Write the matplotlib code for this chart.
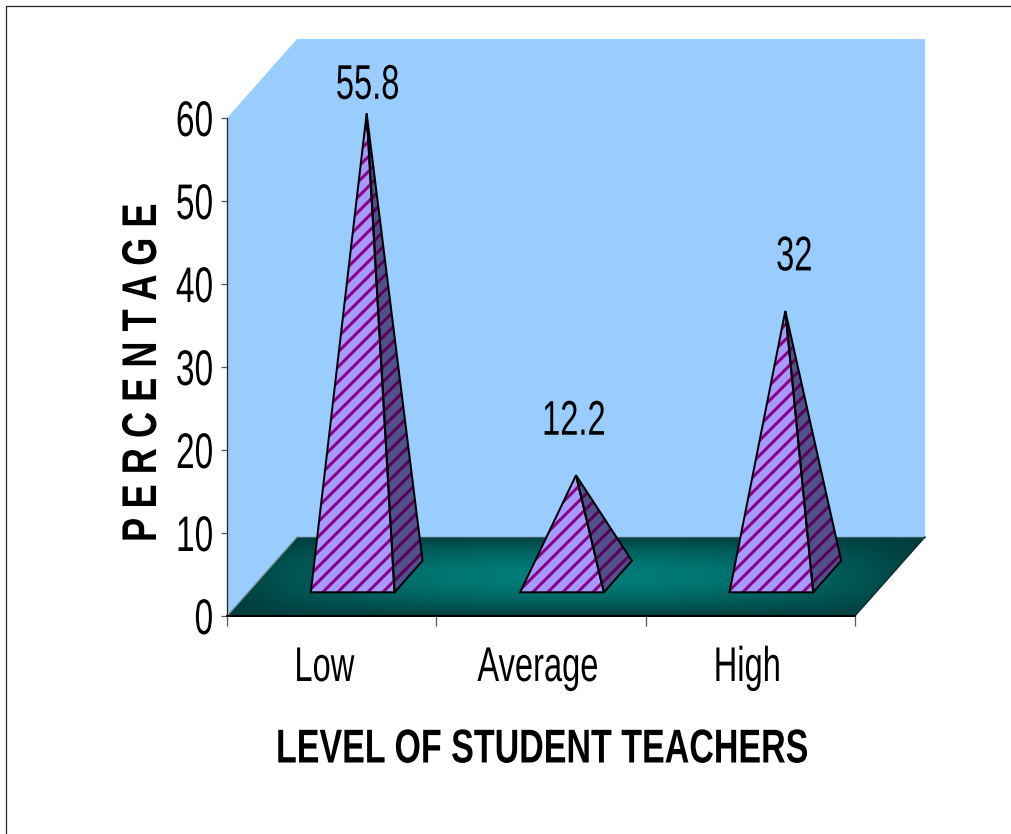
import numpy as np
import matplotlib
matplotlib.use("Agg")
import matplotlib.pyplot as plt
from matplotlib.lines import Line2D
from matplotlib.patches import Polygon
from matplotlib.patheffects import AbstractPathEffect
from matplotlib.transforms import Affine2D

categories = ["Low", "Average", "High"]
values = [55.8, 12.2, 32]
y_ticks = [0, 10, 20, 30, 40, 50, 60]
x_title = "LEVEL OF STUDENT TEACHERS"
y_title = "P E R C E N T A G E"

W, H, DPI = 1012, 834, 90
plt.rcParams["font.family"] = ["Liberation Sans", "DejaVu Sans"]
plt.rcParams["hatch.linewidth"] = 2.4

fig = plt.figure(figsize=(W / DPI, H / DPI), dpi=DPI, facecolor="white")
ax = fig.add_axes([227 / W, (H - 616) / H, 628 / W, 498 / H])
ax.set_xlim(0, 3)
ax.set_ylim(0, 60)
ax.patch.set_visible(False)

# Oblique projection: full depth moves a point right and up by these data amounts.
DX, DY = 70 / (628 / 3), 79 / (498 / 60)


def proj(x, y, d):
    return (x + d * DX, y + d * DY)


class Squeeze(AbstractPathEffect):
    """Draws text narrower along one display axis, about a fixed pivot."""

    def __init__(self, sx, sy, cx, cy):
        super().__init__()
        self.sx, self.sy, self.cx, self.cy = sx, sy, cx, cy

    def draw_path(self, renderer, gc, tpath, affine, rgbFace=None):
        squeeze = (Affine2D().translate(-self.cx, -self.cy)
                   .scale(self.sx, self.sy).translate(self.cx, self.cy))
        renderer.draw_path(gc, tpath, affine + squeeze, rgbFace)


def condense(text, renderer, factor=None, length=None, pivot="center"):
    """Narrow a text by a factor, or to a given length in pixels."""
    box = text.get_window_extent(renderer)
    vertical = text.get_rotation() == 90
    if length is not None:
        factor = length / (box.height if vertical else box.width)
    cx = box.x1 if pivot == "right" else (box.x0 + box.x1) / 2
    cy = (box.y0 + box.y1) / 2
    if vertical:
        text.set_path_effects([Squeeze(1, factor, cx, cy)])
    else:
        text.set_path_effects([Squeeze(factor, 1, cx, cy)])


# Side and back walls
wall = "#99CCFF"
ax.add_patch(Polygon([proj(0, 0, 0), proj(0, 60, 0), proj(0, 60, 1), proj(0, 0, 1)],
                     fc=wall, ec="none", clip_on=False, zorder=1))
ax.add_patch(Polygon([proj(0, 0, 1), proj(0, 60, 1), proj(3, 60, 1), proj(3, 0, 1)],
                     fc=wall, ec="none", clip_on=False, zorder=1))

# Floor with a teal glow fading to dark at its edges
u = np.linspace(-1, 1, 400)
v = np.linspace(-1, 1, 120)
U, V = np.meshgrid(u, v)
t = (1 - np.abs(V) ** 1.8) * (1 - np.abs(U) ** 2.2)
dark, bright = np.array([0, 62, 62]) / 255, np.array([0, 125, 120]) / 255
rgb = dark + (bright - dark) * t[..., None]
floor_corners = [proj(0, 0, 0), proj(3, 0, 0), proj(3, 0, 1), proj(0, 0, 1)]
floor_poly = Polygon(floor_corners, fc="none", ec="none", transform=ax.transData)
ax.add_patch(floor_poly)
floor_poly.set_clip_on(False)
img = ax.imshow(rgb, extent=(0, 3 + DX, 0, DY), aspect="auto", origin="lower", zorder=2)
img.set_clip_box(fig.bbox)
img.set_clip_path(floor_poly)
ax.set_xlim(0, 3)
ax.set_ylim(0, 60)

ax.add_line(Line2D(*zip(proj(0, 0, 0), proj(0, 0, 1)), color="#8a9a9a", lw=1.0, clip_on=False, zorder=3))
ax.add_line(Line2D(*zip(proj(0, 0, 1), proj(3, 0, 1)), color="#3d5a5f", lw=1.0, clip_on=False, zorder=3))
ax.add_line(Line2D(*zip(proj(3, 0, 0), proj(3, 0, 1)), color="#0c2a2a", lw=1.0, clip_on=False, zorder=3))


def face(points, fill, stripe):
    ax.add_patch(Polygon(points, fc=fill, ec=stripe, hatch="//", lw=0, clip_on=False, zorder=4))
    ax.add_patch(Polygon(points, fc="none", ec="black", lw=1.6, joinstyle="miter",
                         clip_on=False, zorder=5))


# Pyramids: front face and right face, apex above the middle of the base
half_width, d_front, d_back = 0.2, 0.3, 0.7
label_offsets = [(1, 27), (-2, 53), (9, 53)]
value_texts = []
for i, val in enumerate(values):
    c = i + 0.5
    fl = proj(c - half_width, 0, d_front)
    fr = proj(c + half_width, 0, d_front)
    br = proj(c + half_width, 0, d_back)
    apex = proj(c, val, (d_front + d_back) / 2)
    face([fr, br, apex], "#50508A", "#5A0058")
    face([fl, fr, apex], "#A699FF", "#8B0082")
    value_texts.append(ax.annotate(str(val), xy=apex, xytext=label_offsets[i],
                                   textcoords="offset pixels", ha="center", va="center",
                                   fontsize=39, color="black",
                                   annotation_clip=False, zorder=6))

# Axes, ticks and titles
for side in ("top", "right"):
    ax.spines[side].set_visible(False)
ax.spines["left"].set_color("#222222")
ax.spines["left"].set_linewidth(1.0)
ax.spines["bottom"].set_color("black")
ax.spines["bottom"].set_linewidth(1.6)
ax.spines["left"].set_zorder(3)
ax.spines["bottom"].set_zorder(3)

ax.set_yticks(y_ticks)
ax.tick_params(axis="y", length=5, width=1, color="#555555", labelsize=40, pad=6)
ax.set_xticks(range(4))
ax.set_xticklabels([])
ax.tick_params(axis="x", which="major", length=8, width=1, color="#555555")
# Category labels sit just left of the slot centres
ax.set_xticks([i + 0.5 + nudge for i, nudge in enumerate((-0.035, -0.015, -0.015))],
              labels=categories, minor=True)
ax.tick_params(axis="x", which="minor", length=0, labelsize=39, pad=24)

x_text = fig.text(542 / W, 1 - 750 / H, x_title, ha="center", va="center",
                  fontsize=38, fontweight="bold")
y_text = fig.text(143.5 / W, 1 - 373 / H, y_title, ha="center", va="center", rotation=90,
                  fontsize=39, fontweight="bold")

# Page frame along the top and left edges
fig.add_artist(Line2D([6 / W, 6 / W, 1], [0, 1 - 6 / H, 1 - 6 / H], color="#222222", lw=1.0))

# All lettering is set narrow once its natural extent is known
fig.canvas.draw()
renderer = fig.canvas.get_renderer()
NARROW = 0.67
for label in ax.get_yticklabels():
    condense(label, renderer, NARROW, pivot="right")
for label in ax.get_xticklabels(minor=True):
    condense(label, renderer, NARROW)
for label in value_texts:
    condense(label, renderer, NARROW)
condense(x_text, renderer, length=532)
condense(y_text, renderer, length=338)

fig.savefig("out.png", dpi=DPI)
